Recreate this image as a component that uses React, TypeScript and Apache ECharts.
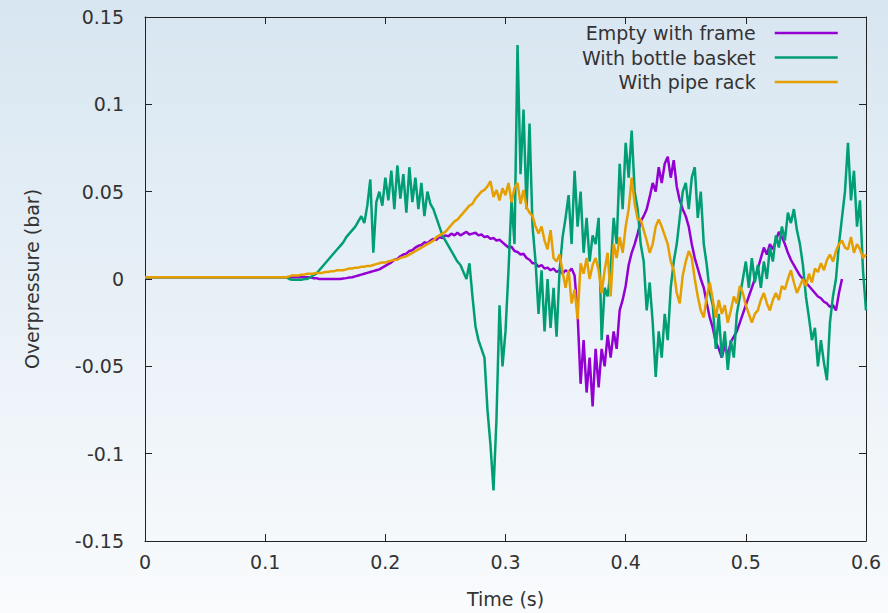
import React, { useEffect, useRef } from "react";
import * as echarts from "echarts";

const SERIES_NAMES = ["Empty with frame", "With bottle basket", "With pipe rack"];
const SERIES_COLORS = ["#9400d3", "#009e73", "#e69f00"];
const X_TICKS = [0, 0.1, 0.2, 0.3, 0.4, 0.5, 0.6];
const Y_TICKS = [-0.15, -0.1, -0.05, 0, 0.05, 0.1, 0.15];
const X_NAME = "Time (s)";
const Y_NAME = "Overpressure (bar)";

// quiet start of the record (s, bar)
const startTimes = [0, 0.025, 0.05, 0.075];
const startEmpty = [0.001, 0.001, 0.001, 0.001];
const startBottle = [0.001, 0.001, 0.001, 0.001];
const startPipe = [0.001, 0.001, 0.001, 0.001];

// traces read from 0.1 s onwards, one reading every 2.5 ms (bar)
const sampleStart = 0.1;
const sampleStep = 0.0025;

const emptyFrame = [
  0.001, 0.001, 0.001, 0.001, 0.001, 0.001, 0.001, 0.001, 0.001, 0.001,
  0.001, 0.001, 0.001, 0.001, 0.001, 0.001, 0.0005, 0.0005, 0.0, 0.0,
  0, 0, 0, 0, 0, 0, 0.0003, 0.0005, 0.0008, 0.001,
  0.0015, 0.002, 0.0025, 0.003, 0.0035, 0.004, 0.0045, 0.005, 0.0055, 0.0065,
  0.0075, 0.0085, 0.0095, 0.011, 0.0115, 0.013, 0.014, 0.0145, 0.016, 0.0165,
  0.018, 0.019, 0.0195, 0.021, 0.0205, 0.022, 0.023, 0.0225, 0.024, 0.0235,
  0.025, 0.0245, 0.026, 0.025, 0.0265, 0.025, 0.026, 0.027, 0.0255, 0.026,
  0.0265, 0.025, 0.0255, 0.024, 0.0245, 0.023, 0.0235, 0.022, 0.0225, 0.021,
  0.0195, 0.018, 0.0185, 0.016, 0.0155, 0.014, 0.0145, 0.012, 0.011, 0.009,
  0.009, 0.007, 0.008, 0.006, 0.0065, 0.005, 0.006, 0.004, 0.005, 0.003,
  0.005, 0.004, 0.006, 0.002, -0.02, -0.06, -0.035, -0.065, -0.045, -0.073,
  -0.04, -0.062, -0.04, -0.05, -0.032, -0.045, -0.03, -0.04, -0.018, -0.012,
  -0.004, 0.008, 0.015, 0.02, 0.026, 0.033, 0.036, 0.04, 0.047, 0.055,
  0.05, 0.064, 0.055, 0.066, 0.07, 0.058, 0.068, 0.053, 0.045, 0.04,
  0.036, 0.03, 0.02, 0.012, 0.006, 0.0, -0.005, -0.014, -0.022, -0.028,
  -0.036, -0.04, -0.045, -0.038, -0.044, -0.036, -0.033, -0.03, -0.025, -0.02,
  -0.015, -0.01, -0.005, 0.0, 0.006, 0.012, 0.018, 0.014, 0.02, 0.017,
  0.022, 0.027, 0.024, 0.02, 0.015, 0.011, 0.008, 0.005, 0.002, 0.0,
  -0.002, -0.004, -0.006, -0.008, -0.01, -0.011, -0.013, -0.014, -0.016, -0.015,
  -0.018, -0.008, 0.0,
];

const bottleBasket = [
  0.001, 0.001, 0.001, 0.001, 0.001, 0.001, 0.001, 0.001, 0.0, -0.0005,
  -0.0005, -0.0005, -0.0005, 0.0, 0.0, 0.001, 0.002, 0.003, 0.005, 0.007,
  0.009, 0.011, 0.013, 0.015, 0.017, 0.019, 0.021, 0.024, 0.026, 0.028,
  0.03, 0.033, 0.036, 0.032, 0.042, 0.057, 0.015, 0.044, 0.05, 0.042,
  0.058, 0.045, 0.062, 0.04, 0.065, 0.046, 0.06, 0.038, 0.064, 0.044,
  0.058, 0.04, 0.055, 0.036, 0.05, 0.043, 0.04, 0.035, 0.03, 0.025,
  0.022, 0.019, 0.016, 0.013, 0.01, 0.008, 0.004, 0.0, 0.009, -0.01,
  -0.027, -0.035, -0.04, -0.045, -0.075, -0.095, -0.121, -0.08, -0.015, -0.05,
  -0.03, 0.005, 0.045, 0.02, 0.134, 0.06, 0.097, 0.04, 0.089, 0.03,
  0.01, -0.02, 0.005, -0.03, 0.0, -0.028, -0.005, -0.033, 0.005, 0.024,
  0.035, 0.048, 0.02, 0.062, 0.03, 0.05, 0.015, 0.035, 0.01, 0.025,
  0.02, 0.035, -0.035, -0.005, -0.01, 0.005, 0.035, 0.02, 0.066, 0.04,
  0.078, 0.058, 0.085, 0.05, 0.04, 0.02, 0.01, -0.018, -0.002, -0.025,
  -0.056, -0.03, -0.045, -0.02, -0.035, -0.005, 0.01, 0.02, 0.035, 0.05,
  0.055, 0.04, 0.058, 0.064, 0.035, 0.05, 0.02, 0.008, -0.008, -0.015,
  -0.04, -0.02, -0.045, -0.03, -0.052, -0.035, -0.045, -0.02, -0.01, 0.0,
  0.01, -0.005, 0.012, -0.002, 0.008, -0.005, 0.01, 0.0, 0.018, 0.01,
  0.025, 0.018, 0.03, 0.022, 0.038, 0.032, 0.04, 0.028, 0.02, 0.008,
  -0.01, -0.022, -0.035, -0.028, -0.05, -0.035, -0.048, -0.058, -0.025, -0.01,
  0.0, 0.02, 0.035, 0.05, 0.078, 0.045, 0.062, 0.03, 0.045, 0.005, -0.018,
];

const pipeRack = [
  0.001, 0.001, 0.001, 0.001, 0.001, 0.001, 0.001, 0.001, 0.0015, 0.002,
  0.002, 0.002, 0.0025, 0.0025, 0.003, 0.003, 0.003, 0.0035, 0.0035, 0.0035,
  0.004, 0.004, 0.0045, 0.0045, 0.005, 0.005, 0.005, 0.0055, 0.006, 0.006,
  0.0065, 0.0065, 0.007, 0.007, 0.0075, 0.0075, 0.008, 0.0085, 0.009, 0.0095,
  0.0095, 0.01, 0.0105, 0.011, 0.011, 0.012, 0.0125, 0.013, 0.014, 0.015,
  0.016, 0.017, 0.018, 0.019, 0.02, 0.021, 0.022, 0.024, 0.025, 0.026,
  0.027, 0.029, 0.031, 0.033, 0.034, 0.036, 0.038, 0.04, 0.042, 0.043,
  0.046, 0.048, 0.05, 0.051, 0.053, 0.056, 0.047, 0.051, 0.045, 0.052,
  0.048, 0.055, 0.044, 0.052, 0.055, 0.043, 0.051, 0.041, 0.038, 0.036,
  0.03, 0.026, 0.03, 0.022, 0.017, 0.028, 0.012, 0.01, 0.014, 0.004,
  -0.005, 0.005, -0.014, -0.006, -0.023, 0.009, 0.003, 0.012, 0.0, 0.008,
  0.012, 0.005, -0.008, 0.005, 0.015, -0.01, 0.02, 0.012, 0.024, 0.015,
  0.03, 0.04, 0.058, 0.043, 0.034, 0.034, 0.028, 0.022, 0.015, 0.02,
  0.03, 0.034, 0.03, 0.025, 0.02, 0.01, 0.005, -0.008, -0.014, 0.002,
  0.01, 0.016, 0.012, 0.0, -0.01, -0.018, -0.022, -0.01, -0.002, -0.012,
  -0.022, -0.012, -0.02, -0.015, -0.025, -0.018, -0.01, -0.014, -0.004, -0.008,
  -0.015, -0.02, -0.025, -0.02, -0.018, -0.012, -0.008, -0.014, -0.018, -0.012,
  -0.008, -0.012, -0.004, -0.006, 0.0, 0.005, -0.002, -0.008, -0.004, 0.0,
  -0.004, 0.003, -0.002, 0.006, 0.004, 0.009, 0.005, 0.011, 0.014, 0.01,
  0.016, 0.02, 0.022, 0.018, 0.017, 0.024, 0.015, 0.02, 0.017, 0.012, 0.014,
];

function toPairs(start: number[], vals: number[]): [number, number][] {
  const out: [number, number][] = startTimes.map((t, i) => [t, start[i]]);
  vals.forEach((v, i) => out.push([+(sampleStart + i * sampleStep).toFixed(4), v]));
  return out;
}

const FONT = "DejaVu Sans";
const TEXT_COLOR = "#333333";
const AXIS_COLOR = "#222222";

export default function App() {
  const ref = useRef<HTMLDivElement>(null);

  useEffect(() => {
    if (!ref.current) return;
    const chart = echarts.init(ref.current, undefined, { renderer: "svg" });
    const seriesData = [
      toPairs(startEmpty, emptyFrame),
      toPairs(startBottle, bottleBasket),
      toPairs(startPipe, pipeRack),
    ];
    const axisLine = { show: true, onZero: false, lineStyle: { color: AXIS_COLOR, width: 1 } };
    const tick = { show: true, inside: true, length: 7, lineStyle: { color: AXIS_COLOR, width: 1 } };
    const labelStyle = { fontFamily: FONT, fontSize: 19, color: TEXT_COLOR };
    chart.setOption({
      animation: false,
      backgroundColor: new echarts.graphic.LinearGradient(0, 0, 0, 1, [
        { offset: 0, color: "#d8e6f1" },
        { offset: 1, color: "#f9fbfd" },
      ]),
      textStyle: { fontFamily: FONT },
      grid: { left: 145, right: 22, top: 17, bottom: 72, containLabel: false },
      legend: {
        data: SERIES_NAMES,
        orient: "vertical",
        align: "right",
        right: 49,
        top: 23,
        padding: 0,
        itemWidth: 63,
        itemHeight: 20,
        itemGap: 4.5,
        itemStyle: { opacity: 0 },
        lineStyle: { width: 2.5 },
        textStyle: { ...labelStyle, lineHeight: 20, padding: [0, 14, 0, 0] },
      },
      xAxis: [
        {
          type: "value",
          min: X_TICKS[0],
          max: X_TICKS[X_TICKS.length - 1],
          interval: 0.1,
          axisLine,
          axisTick: tick,
          splitLine: { show: false },
          axisLabel: { ...labelStyle, margin: 11, formatter: (v: number) => String(+v.toFixed(2)) },
          name: X_NAME,
          nameLocation: "middle",
          nameGap: 48,
          nameTextStyle: labelStyle,
        },
        {
          type: "value",
          position: "top",
          min: X_TICKS[0],
          max: X_TICKS[X_TICKS.length - 1],
          interval: 0.1,
          axisLine,
          axisTick: tick,
          splitLine: { show: false },
          axisLabel: { show: false },
        },
      ],
      yAxis: [
        {
          type: "value",
          min: Y_TICKS[0],
          max: Y_TICKS[Y_TICKS.length - 1],
          interval: 0.05,
          axisLine,
          axisTick: tick,
          splitLine: { show: false },
          axisLabel: { ...labelStyle, margin: 21, formatter: (v: number) => String(+v.toFixed(2)) },
          name: Y_NAME,
          nameLocation: "middle",
          nameGap: 104,
          nameTextStyle: labelStyle,
        },
        {
          type: "value",
          position: "right",
          min: Y_TICKS[0],
          max: Y_TICKS[Y_TICKS.length - 1],
          interval: 0.05,
          axisLine,
          axisTick: tick,
          splitLine: { show: false },
          axisLabel: { show: false },
        },
      ],
      series: SERIES_NAMES.map((name, i) => ({
        name,
        type: "line",
        xAxisIndex: 0,
        yAxisIndex: 0,
        data: seriesData[i],
        symbol: "none",
        showSymbol: false,
        color: SERIES_COLORS[i],
        lineStyle: { color: SERIES_COLORS[i], width: 2.5 },
        z: 2 + i,
      })),
    });
    return () => chart.dispose();
  }, []);

  return (
    <div
      ref={ref}
      style={{ position: "absolute", left: 0, top: 0, width: 888, height: 613 }}
    />
  );
}
